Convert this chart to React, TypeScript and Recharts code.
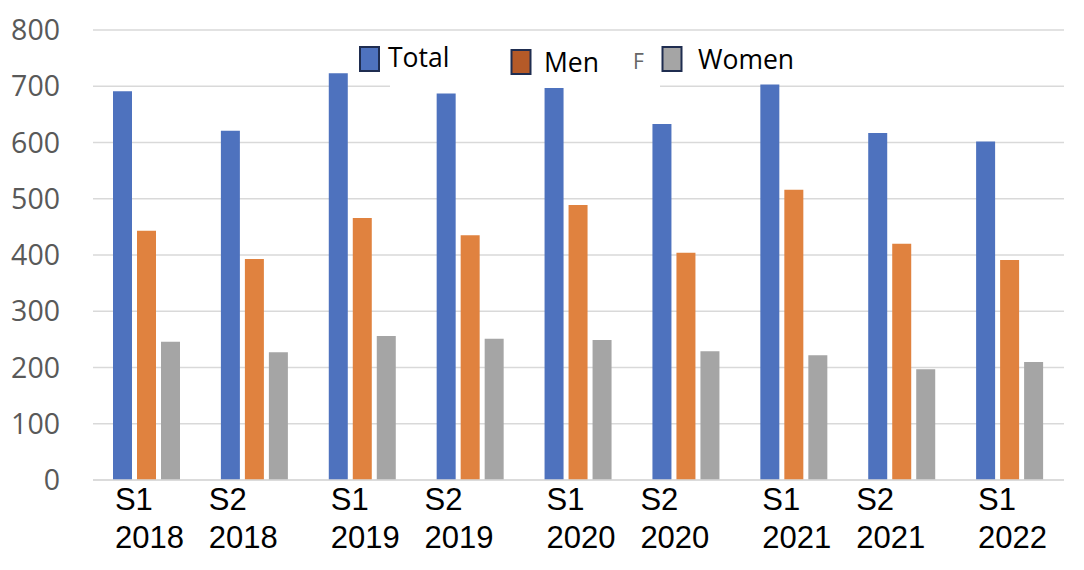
import { Bar, BarChart, CartesianGrid, Legend, XAxis, YAxis } from 'recharts'

const categories = ['S1 2018', 'S2 2018', 'S1 2019', 'S2 2019', 'S1 2020', 'S2 2020', 'S1 2021', 'S2 2021', 'S1 2022']
const totalValues = [691, 621, 723, 687, 705, 633, 703, 617, 602]
const menValues = [443, 393, 466, 435, 489, 404, 516, 420, 391]
const womenValues = [246, 227, 256, 251, 249, 229, 222, 197, 210]
const yTicks = [0, 100, 200, 300, 400, 500, 600, 700, 800]

const data = categories.map((name, i) => ({
  name,
  total: totalValues[i],
  men: menValues[i],
  women: womenValues[i],
}))

const BLUE = '#4E72BE'
const ORANGE = '#E0823F'
const GRAY = '#A5A5A5'

function CategoryTick(props: any) {
  const { x, y, payload } = props
  const [sem, year] = String(payload.value).split(' ')
  // the S2 labels sit a bit further left in the original
  const left = x + (sem === 'S2' ? -46 : -32)
  return (
    <g>
      <text x={left} y={y + 30} textAnchor='start' fill='#000' fontSize={31} fontFamily='Liberation Sans, Arial, sans-serif'>
        {sem}
      </text>
      <text x={left} y={y + 68} textAnchor='start' fill='#000' fontSize={31} fontFamily='Liberation Sans, Arial, sans-serif'>
        {year}
      </text>
    </g>
  )
}

function LegendBox() {
  const font = { fontSize: 26.5, fontFamily: 'Open Sans, sans-serif', fill: '#000' }
  return (
    <svg width={1084} height={100} style={{ display: 'block' }}>
      <rect x={390} y={31} width={270} height={57} fill='#fff' />
      <rect x={360} y={47} width={19} height={24} fill={BLUE} stroke='#1F2D50' strokeWidth={2} />
      <text x={388} y={67} {...font}>Total</text>
      <rect x={511.5} y={50} width={19} height={24} fill='#B55A28' stroke='#1F2D50' strokeWidth={2} />
      <text x={544} y={72} {...font}>Men</text>
      <text x={633} y={69} fontSize={21} fontFamily='Open Sans, sans-serif' fill='#666'>F</text>
      <rect x={662.5} y={47} width={19} height={24} fill={GRAY} stroke='#1F2D50' strokeWidth={2} />
      <text x={698} y={69} {...font}>Women</text>
    </svg>
  )
}

export default function App() {
  return (
    <div style={{ position: 'absolute', left: 0, top: 0, width: 1084, height: 570, background: '#fff' }}>
      <BarChart
        width={1084}
        height={570}
        data={data}
        margin={{ top: 30, right: 20, left: 0, bottom: 0 }}
        barSize={19}
        barGap={5}
      >
        <CartesianGrid vertical={false} stroke='#D9D9D9' strokeWidth={1.5} />
        <XAxis
          dataKey='name'
          height={90}
          tickLine={false}
          tickSize={0}
          tickMargin={0}
          axisLine={{ stroke: '#D9D9D9', strokeWidth: 1.5 }}
          tick={<CategoryTick />}
          interval={0}
        />
        <YAxis
          width={93}
          domain={[0, 800]}
          ticks={yTicks}
          axisLine={false}
          tickLine={false}
          tickSize={0}
          tickMargin={33}
          tick={{ fill: '#595959', fontSize: 28.5, fontFamily: 'Open Sans, sans-serif' }}
        />
        <Bar dataKey='total' name='Total' fill={BLUE} isAnimationActive={false} />
        <Bar dataKey='men' name='Men' fill={ORANGE} isAnimationActive={false} />
        <Bar dataKey='women' name='Women' fill={GRAY} isAnimationActive={false} />
        <Legend
          layout='horizontal'
          verticalAlign='middle'
          align='center'
          content={() => <LegendBox />}
          wrapperStyle={{ position: 'absolute', left: 0, top: 0, width: 1084, height: 100 }}
        />
      </BarChart>
    </div>
  )
}
